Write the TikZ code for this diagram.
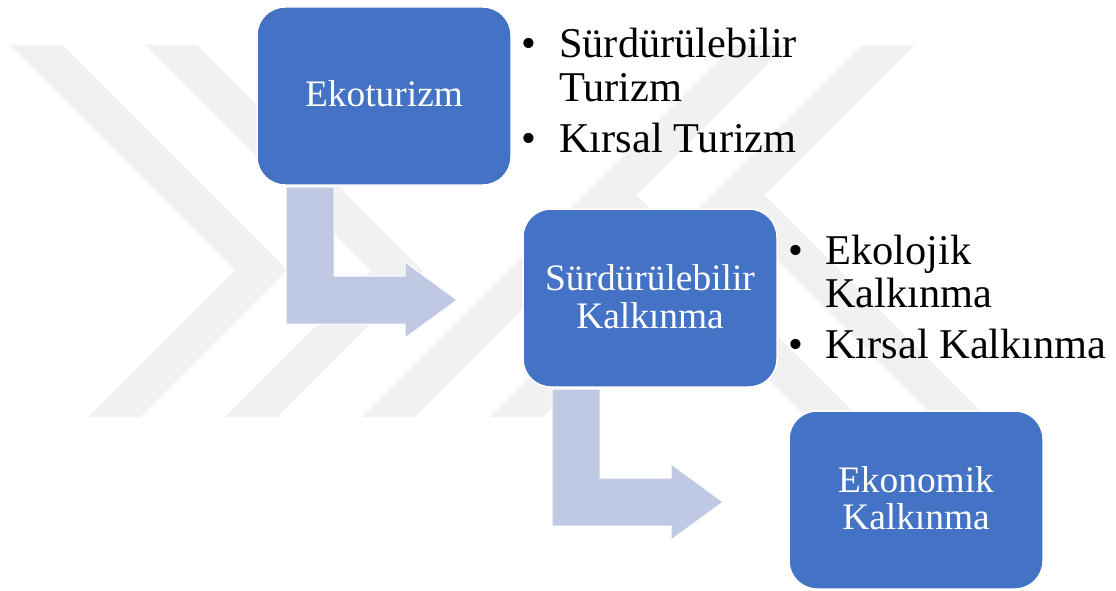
\documentclass[tikz,border=0pt]{standalone}
\usepackage{fontspec}
\setmainfont{Liberation Serif}
\usetikzlibrary{calc}
\definecolor{boxblue}{RGB}{68,114,196}
\definecolor{arrowfill}{RGB}{191,201,227}
\definecolor{wmgray}{RGB}{241,241,241}
\tikzset{
  stepbox/.style={draw=white, line width=1.5pt, fill=boxblue, rounded corners=28pt,
    minimum width=254pt, minimum height=178pt, inner sep=0pt, outer sep=0pt},
  boxtext/.style={text=white, font=\fontsize{37.4}{38}\selectfont, inner sep=0pt, anchor=base},
  itemtext/.style={text=black, font=\fontsize{42.4}{43}\selectfont, inner sep=0pt, anchor=base west},
  bulletmark/.style={text=black, font=\fontsize{42.4}{43}\selectfont, inner sep=0pt, anchor=base},
  bentarrow/.style={fill=arrowfill, draw=white, line width=1pt, line join=miter},
  watermark/.style={fill=wmgray}
}
\newcommand\bendarrow[3]{%
  \coordinate (#3tip) at ($(#2.west)+(-66,2)$);
  \coordinate (#3a) at ($(#1.south west)+(29,2)$);
  \coordinate (#3b) at ($(#1.south west)+(77,2)$);
  \coordinate (#3c) at ($(#3tip)+(-52,-24)$);
  \coordinate (#3d) at ($(#3tip)+(-52,-38)$);
  \coordinate (#3e) at ($(#3tip)+(-52,38)$);
  \coordinate (#3f) at ($(#3tip)+(-52,24)$);
  \draw[bentarrow] (#3a) -- (#3b) -- (#3b |- #3c) -- (#3c) -- (#3d) -- (#3tip)
     -- (#3e) -- (#3f) -- (#3a |- #3f) -- cycle;
}
\begin{document}
\begin{tikzpicture}[x=1pt,y=-1pt]
\fill[white] (0,0) rectangle (1116,591);
\useasboundingbox (0,0) rectangle (1116,591);
% watermark
\fill[watermark] (10,45) -- (62,45) -- (287,270) -- (140,417) -- (88,417) -- (235,270) -- cycle;
\fill[watermark] (145,45) -- (197,45) -- (423,271) -- (277,417) -- (225,417) -- (371,271) -- cycle;
\fill[watermark] (362,417) -- (734,45) -- (786,45) -- (636,195) -- (858,417) -- (806,417) -- (610,221) -- (414,417) -- cycle;
\fill[watermark] (490,417) -- (862,45) -- (914,45) -- (764,195) -- (986,417) -- (934,417) -- (738,221) -- (542,417) -- cycle;
% boxes
\node[stepbox] (b1) at (384,96) {};
\node[stepbox] (b2) at (650,298) {};
\node[stepbox] (b3) at (916,500) {};
% bent arrows
\bendarrow{b1}{b2}{arA}
\bendarrow{b2}{b3}{arB}
% box texts
\node[boxtext] (t1) at ($(b1.center)+(0,11)$) {Ekoturizm};
\node[boxtext] (t2a) at ($(b2.center)+(0,-8)$) {Sürdürülebilir};
\node[boxtext] (t2b) at ($(b2.center)+(0,30)$) {Kalkınma};
\node[boxtext] (t3a) at ($(b3.center)+(0,-8)$) {Ekonomik};
\node[boxtext] (t3b) at ($(b3.center)+(0,29)$) {Kalkınma};
% list 1
\node[bulletmark] (p1) at (529,58) {•};
\node[itemtext] (i1a) at (559,58) {Sürdürülebilir};
\node[itemtext] (i1b) at (559,102) {Turizm};
\node[bulletmark] (p2) at (529,153) {•};
\node[itemtext] (i1c) at (559,153) {Kırsal Turizm};
% list 2
\node[bulletmark] (p3) at (796,264) {•};
\node[itemtext] (i2a) at (825,264) {Ekolojik};
\node[itemtext] (i2b) at (825,307) {Kalkınma};
\node[bulletmark] (p4) at (796,358) {•};
\node[itemtext] (i2c) at (825,358) {Kırsal Kalkınma};
\end{tikzpicture}
\end{document}
